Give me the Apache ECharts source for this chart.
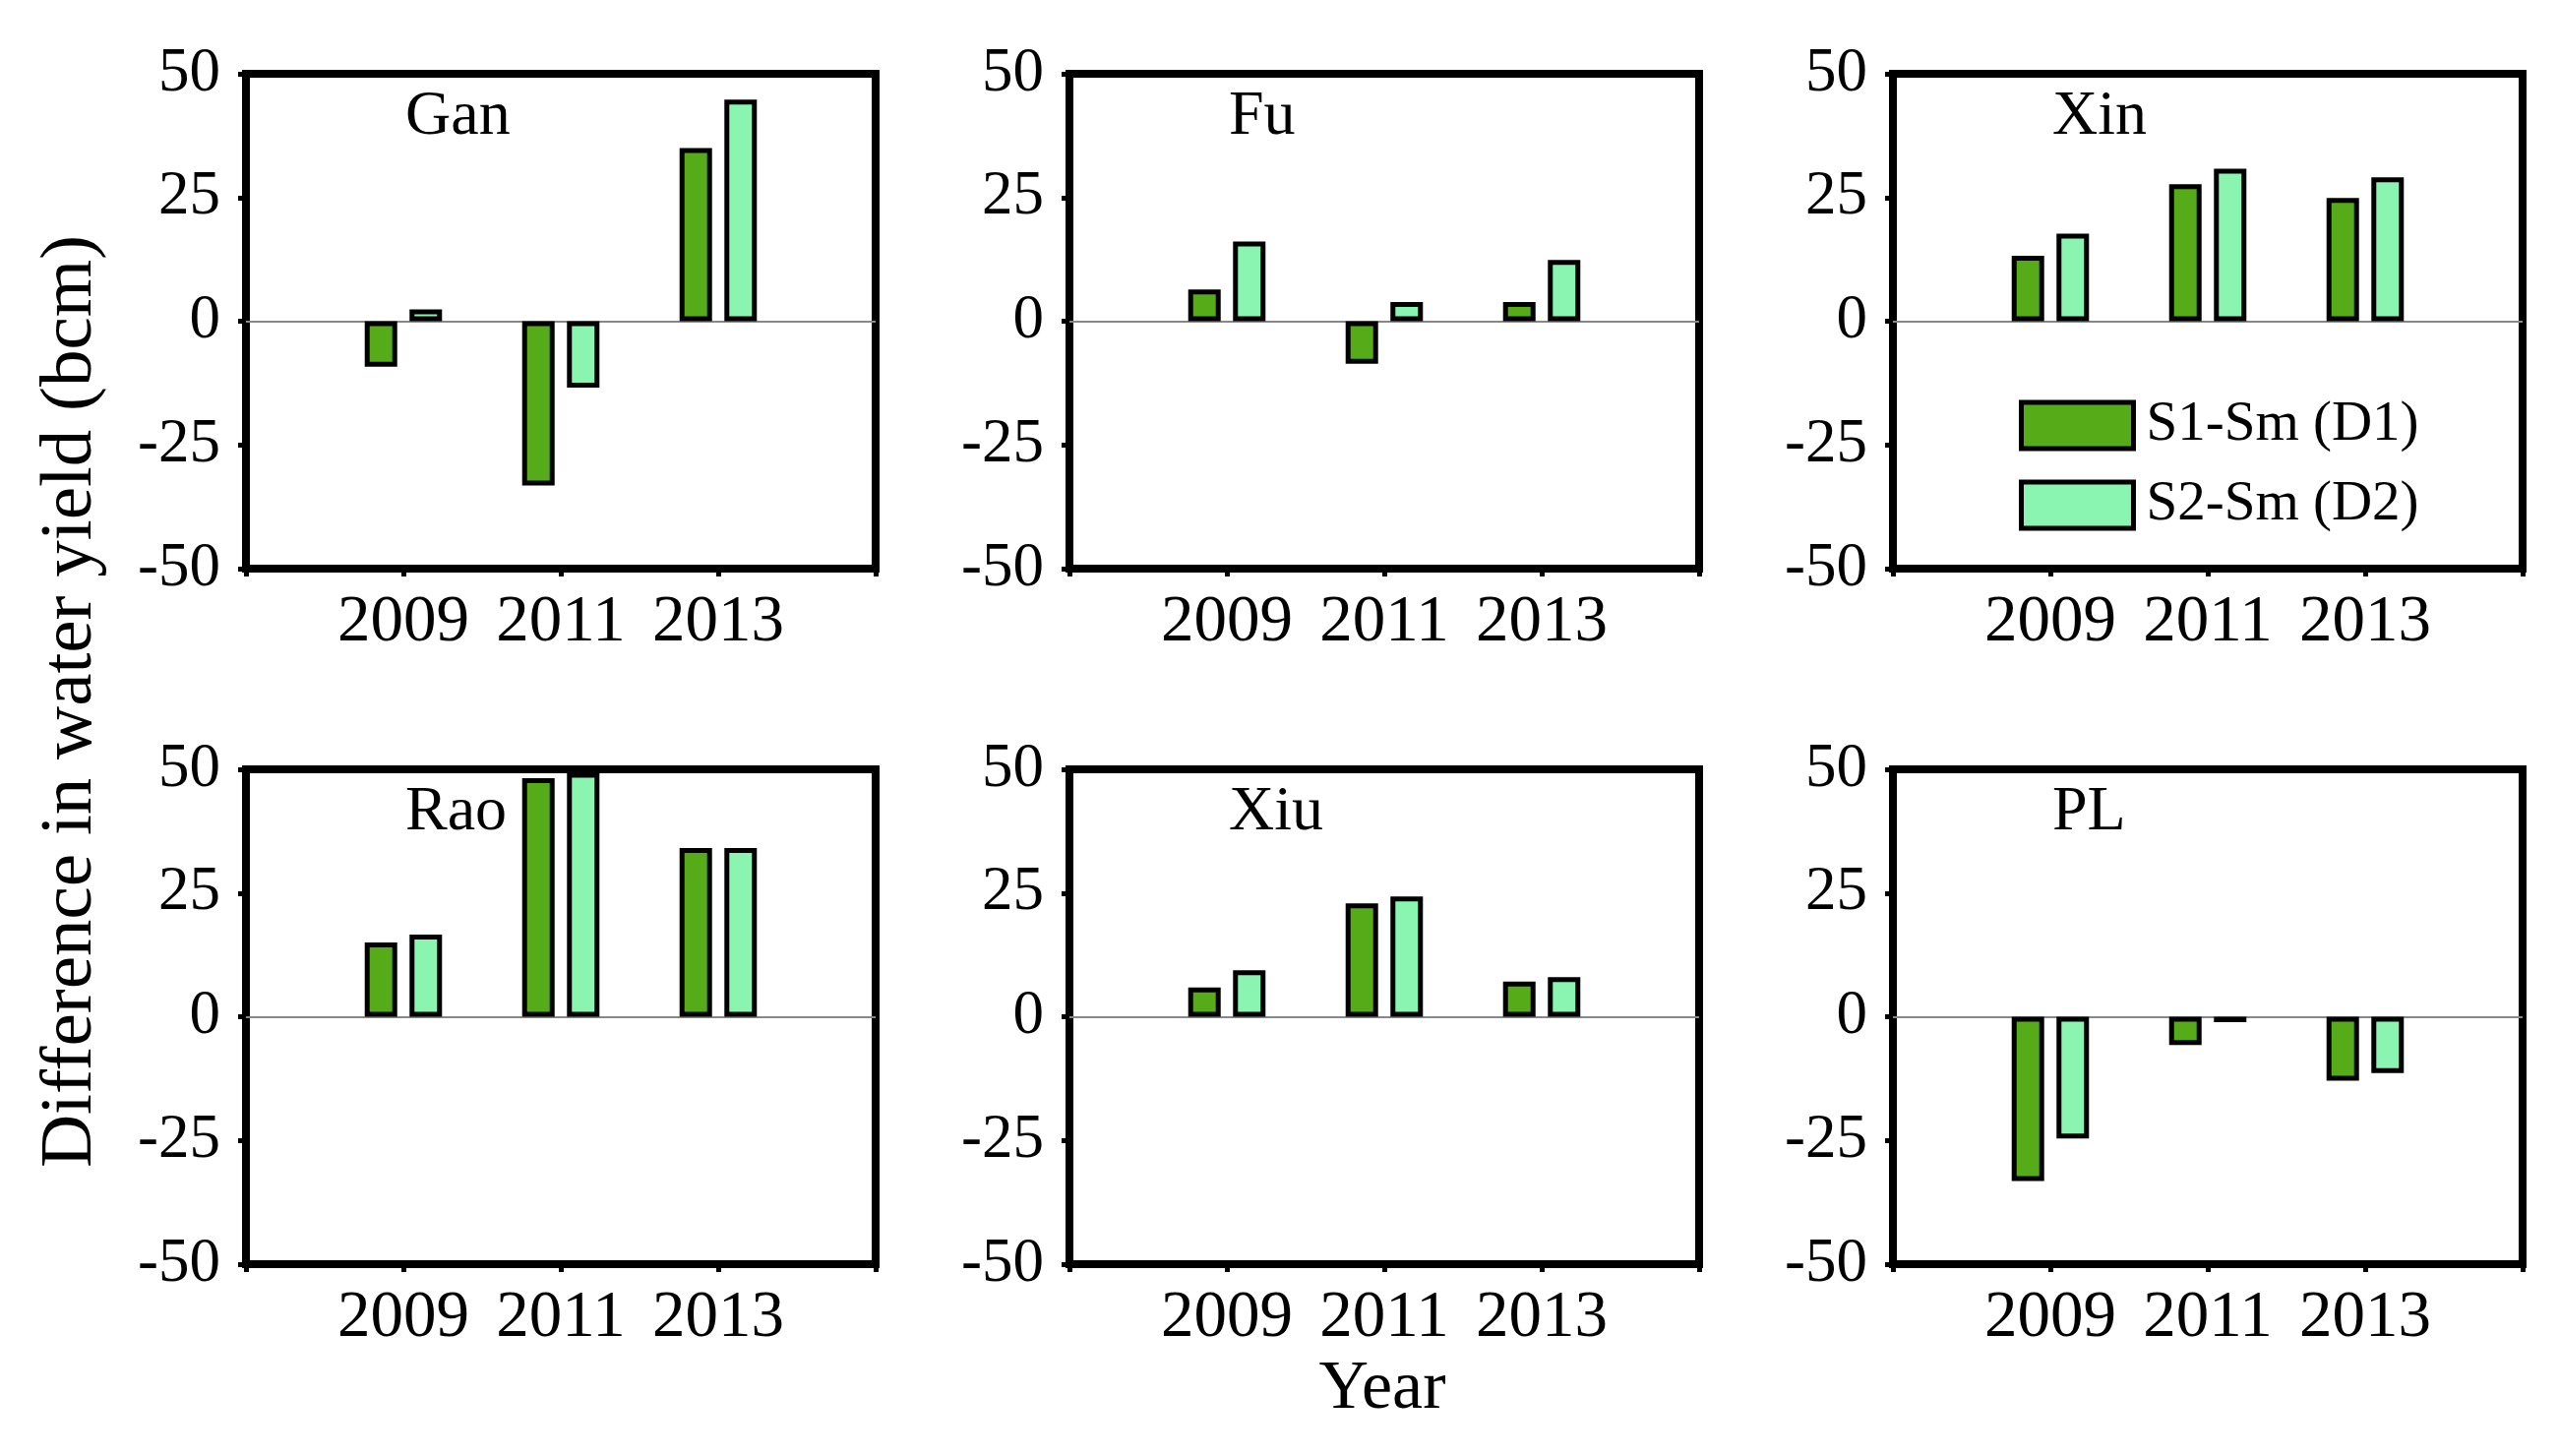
<!DOCTYPE html>
<html>
<head>
<meta charset="utf-8">
<script src="https://cdn.jsdelivr.net/npm/echarts@6/dist/echarts.min.js"></script>
<style>
html,body{margin:0;padding:0;background:#fff;}
#chart{width:2601px;height:1480px;}
</style>
</head>
<body>
<div id="chart"></div>
<script>
// ---- data ----
const xLabels = ['', '2009', '2011', '2013', ''];
const panelNames = ['Gan', 'Fu', 'Xin', 'Rao', 'Xiu', 'PL'];
const seriesNames = ['S1-Sm (D1)', 'S2-Sm (D2)'];
const yTickMin = -50;
const yTickMax = 50;
const yTickStep = 25;

const ganD1 = [-9.2, -33.2, 35.0];
const ganD2 = [2.4, -13.4, 44.8];
const fuD1  = [6.4, -8.6, 3.9];
const fuD2  = [16.1, 3.9, 12.4];
const xinD1 = [13.2, 27.7, 24.9];
const xinD2 = [17.7, 30.8, 29.1];
const raoD1 = [15.0, 48.2, 34.1];
const raoD2 = [16.6, 49.3, 34.1];
const xiuD1 = [5.9, 22.9, 7.1];
const xiuD2 = [9.4, 24.3, 8.0];
const plD1  = [-33.2, -5.7, -12.9];
const plD2  = [-24.6, -1.1, -11.4];

const d1All = [ganD1, fuD1, xinD1, raoD1, xiuD1, plD1];
const d2All = [ganD2, fuD2, xinD2, raoD2, xiuD2, plD2];

// ---- layout ----
const colLefts = [250, 1087, 1924];
const rowTops = [75, 782];
const gW = 640, gH = 503;
const FONT = '"Liberation Serif", "Times New Roman", serif';
const C1 = '#56AB18';
const C2 = '#8AF5B0';

const grids = [], xAxes = [], yAxes = [], series = [], graphics = [];
for (let i = 0; i < 6; i++) {
  const r = Math.floor(i / 3), c = i % 3;
  grids.push({
    left: colLefts[c], top: rowTops[r], width: gW, height: gH,
    show: true, borderColor: '#000', borderWidth: 8, backgroundColor: 'transparent',
    containLabel: false
  });
  xAxes.push({
    type: 'category', gridIndex: i, data: xLabels, boundaryGap: false,
    axisLine: { show: false, onZero: false },
    axisTick: { show: true, length: 8, lineStyle: { color: '#000', width: 5 } },
    axisLabel: { interval: 0, color: '#000', fontFamily: FONT, fontSize: 67, margin: 22 },
    splitLine: { show: false }
  });
  yAxes.push({
    type: 'value', gridIndex: i, min: yTickMin, max: yTickMax, interval: yTickStep,
    axisLine: { show: false },
    axisTick: { show: true, length: 8, lineStyle: { color: '#000', width: 5 } },
    axisLabel: { color: '#000', fontFamily: FONT, fontSize: 63, margin: 26 },
    splitLine: { show: false }
  });
  const d1 = [null].concat(d1All[i], [null]);
  const d2 = [null].concat(d2All[i], [null]);
  series.push({
    name: seriesNames[0], type: 'bar', xAxisIndex: i, yAxisIndex: i,
    data: d1, barWidth: 33, barGap: '38%',
    itemStyle: { color: C1, borderColor: '#000', borderWidth: 5 },
    markLine: {
      silent: true, symbol: 'none', label: { show: false },
      lineStyle: { color: '#888', width: 2, type: 'solid' },
      data: [{ yAxis: 0 }], z: 1
    },
    z: 3
  });
  series.push({
    name: seriesNames[1], type: 'bar', xAxisIndex: i, yAxisIndex: i,
    data: d2, barWidth: 33, barGap: '38%',
    itemStyle: { color: C2, borderColor: '#000', borderWidth: 5 },
    z: 3
  });
  graphics.push({
    type: 'text', left: colLefts[c] + 162, top: rowTops[r] + 12,
    style: { text: panelNames[i], fill: '#000', font: '64px ' + FONT }
  });
}

graphics.push({
  type: 'text', x: 72, y: 713, rotation: Math.PI / 2,
  style: { text: 'Difference in water yield (bcm)', fill: '#000', font: '75px ' + FONT,
           align: 'center', verticalAlign: 'middle' }
});
graphics.push({
  type: 'text', x: 1405, y: 1413,
  style: { text: 'Year', fill: '#000', font: '70px ' + FONT, align: 'center', verticalAlign: 'middle' }
});

const option = {
  backgroundColor: '#fff',
  animation: false,
  grid: grids,
  xAxis: xAxes,
  yAxis: yAxes,
  series: series,
  legend: {
    data: seriesNames, orient: 'vertical', left: 2052, top: 404,
    itemWidth: 114, itemHeight: 47, itemGap: 24, icon: 'rect', padding: 0,
    itemStyle: { borderColor: '#000', borderWidth: 5 },
    textStyle: { fontFamily: FONT, fontSize: 57, color: '#000', padding: [0, 0, 0, 8] }
  },
  graphic: graphics
};

const chart = echarts.init(document.getElementById('chart'), null, { renderer: 'canvas' });
chart.setOption(option);
</script>
</body>
</html>
